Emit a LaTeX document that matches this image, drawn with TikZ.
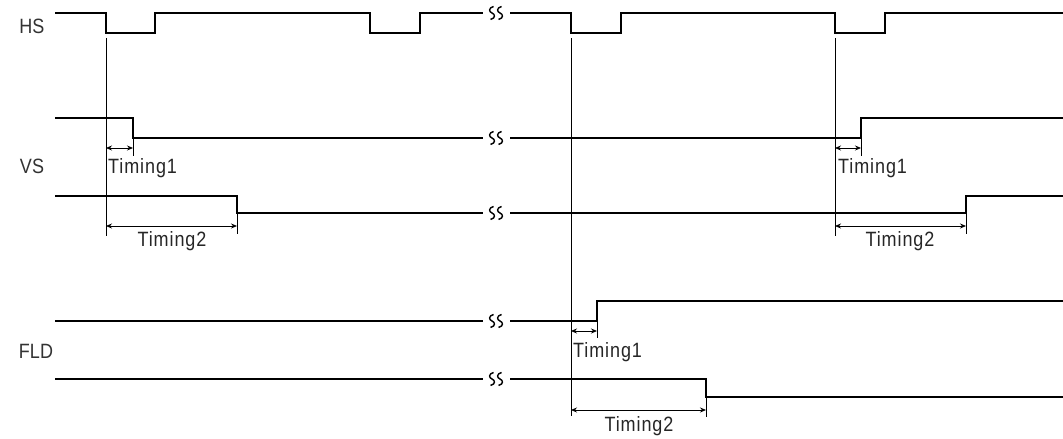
\documentclass[tikz,border=0pt]{standalone}
\usepackage{fontspec}
\setmainfont{Liberation Sans}
\usetikzlibrary{arrows.meta}
\newcommand\tallText[1]{\scalebox{1}[1.15]{#1}}
\begin{document}
\begin{tikzpicture}[x=1pt,y=-1pt,
  sig/.style={line width=1.8pt, line join=miter},
  sigthin/.style={line width=1.4pt, line join=miter},
  refline/.style={line width=0.8pt},
  tick/.style={line width=0.8pt},
  dimarrow/.style={line width=0.8pt, {Stealth[length=6pt,width=5pt]}-{Stealth[length=6pt,width=5pt]}},
  brkline/.style={line width=1.4pt},
  lbl/.style={font=\fontsize{18}{20}\selectfont, text=black!80, inner sep=0pt},
  tim/.style={font=\fontsize{18}{20}\selectfont\addfontfeatures{LetterSpace=5}, text=black!85, inner sep=0pt},
  brkpic/.pic={
    \draw[brkline] (-2.5,-6.5) .. controls (-8,-5) and (-7,-1) .. (-4,0) .. controls (-1,1) and (0,5) .. (-5.5,6.5);
    \draw[brkline] (5.5,-6.5) .. controls (0,-5) and (1,-1) .. (4,0) .. controls (7,1) and (8,5) .. (2.5,6.5);
  }]
\useasboundingbox (0,0) rectangle (1063,439);

% labels
\node[lbl, anchor=base] (lhs) at (32,33) {\tallText{HS}};
\node[lbl, anchor=base] (lvs) at (32,173) {\tallText{VS}};
\node[lbl, anchor=base] (lfld) at (36,358) {\tallText{FLD}};

% HS
\draw[sig] (55,13) -- (106,13) -- (106,33) -- (155,33) -- (155,13) -- (370,13) -- (370,33) -- (420,33) -- (420,13) -- (483,13);
\draw[sig] (510,13) -- (571,13) -- (571,33) -- (621,33) -- (621,13) -- (835,13) -- (835,33) -- (885,33) -- (885,13) -- (1063,13);
\pic at (496,13) {brkpic};

% VS upper
\draw[sigthin] (55,118) -- (133,118) -- (133,138) -- (483,138);
\draw[sigthin] (510,138) -- (861,138) -- (861,118) -- (1063,118);
\pic at (496,138) {brkpic};

% VS lower
\draw[sig] (55,196) -- (237,196) -- (237,213) -- (483,213);
\draw[sig] (510,213) -- (966,213) -- (966,196) -- (1063,196);
\pic at (496,213) {brkpic};

% FLD upper
\draw[sig] (55,321) -- (483,321);
\draw[sig] (510,321) -- (597,321) -- (597,301) -- (1063,301);
\pic at (496,321) {brkpic};

% FLD lower
\draw[sig] (55,379) -- (483,379);
\draw[sig] (510,379) -- (706,379) -- (706,397) -- (1063,397);
\pic at (496,379) {brkpic};

% reference lines
\coordinate (r1t) at (106,38);  \coordinate (r1b) at (106,236);
\coordinate (r2t) at (835,38);  \coordinate (r2b) at (835,236);
\coordinate (r3t) at (571,38);  \coordinate (r3b) at (571,416);
\draw[refline] (r1t) -- (r1b);
\draw[refline] (r2t) -- (r2b);
\draw[refline] (r3t) -- (r3b);

% ticks
\coordinate (t1a) at (133,138); \coordinate (t1b) at (133,156);
\coordinate (t2a) at (237,213); \coordinate (t2b) at (237,234);
\coordinate (t3a) at (861,138); \coordinate (t3b) at (861,156);
\coordinate (t4a) at (966,213); \coordinate (t4b) at (966,234);
\coordinate (t5a) at (597,321); \coordinate (t5b) at (597,338);
\coordinate (t6a) at (706,397); \coordinate (t6b) at (706,417);
\foreach \t in {1,...,6} {\draw[tick] (t\t a) -- (t\t b);}

% dimension arrows
\coordinate (d1a) at (106,148); \coordinate (d1b) at (133,148);
\coordinate (d2a) at (106,226); \coordinate (d2b) at (237,226);
\coordinate (d3a) at (835,148); \coordinate (d3b) at (861,148);
\coordinate (d4a) at (835,226); \coordinate (d4b) at (966,226);
\coordinate (d5a) at (571,331); \coordinate (d5b) at (597,331);
\coordinate (d6a) at (571,410); \coordinate (d6b) at (706,410);
\foreach \d in {1,...,6} {\draw[dimarrow] (d\d a) -- (d\d b);}

% timing labels
\node[tim, anchor=base west] (tx1) at (108,173) {\tallText{Timing1}};
\node[tim, anchor=base] (tx2) at (172,246) {\tallText{Timing2}};
\node[tim, anchor=base west] (tx3) at (838,173) {\tallText{Timing1}};
\node[tim, anchor=base] (tx4) at (900,246) {\tallText{Timing2}};
\node[tim, anchor=base west] (tx5) at (573,357) {\tallText{Timing1}};
\node[tim, anchor=base] (tx6) at (639,431) {\tallText{Timing2}};
\end{tikzpicture}
\end{document}
